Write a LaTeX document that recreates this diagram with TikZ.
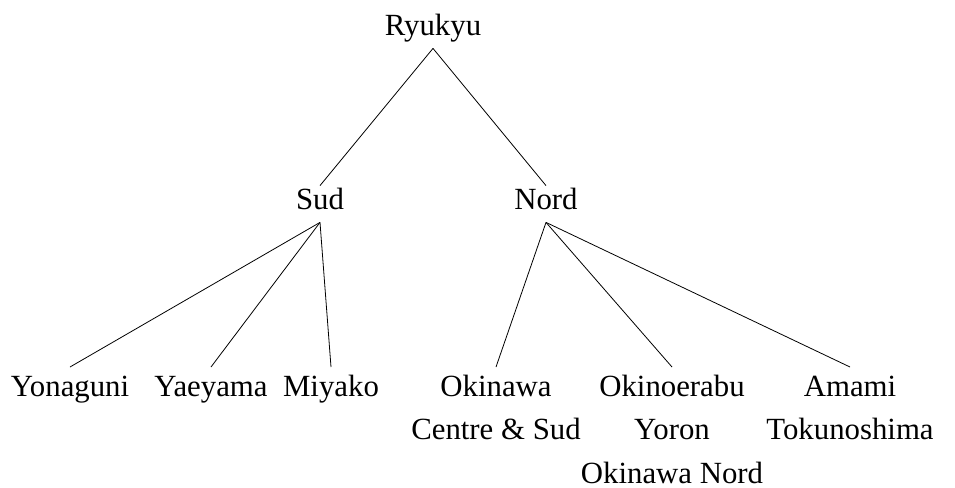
\documentclass[tikz,border=0pt]{standalone}
\usepackage{fontspec}
\setmainfont{Liberation Serif}
\usetikzlibrary{positioning}
\tikzset{lang/.style={inner sep=4pt,text height=0.75em,text depth=0.25em,font=\fontsize{15.4}{22}\selectfont},
  leaf/.style={inner sep=4pt,align=center,anchor=north,font=\fontsize{15.4}{21.6}\selectfont}}

\begin{document}
\begin{tikzpicture}[x=0.5pt,y=-0.5pt]
\useasboundingbox (0,0) rectangle (955,488);
% root and branches
\node[lang,anchor=base] (ryukyu) at (433,35) {Ryukyu};
\node[lang,anchor=base] (sud) at (320,209) {Sud};
\node[lang,anchor=base] (nord) at (546,209) {Nord};
% leaves
\node[leaf] (yonaguni) at (70,367) {\vphantom{k}Yonaguni};
\node[leaf] (yaeyama) at (211,367) {\vphantom{k}Yaeyama};
\node[leaf] (miyako) at (331,367) {Miyako};
\node[leaf] (okinawa) at (496,367) {Okinawa\\Centre \& Sud};
\node[leaf] (okinoerabu) at (672,367) {Okinoerabu\\Yoron\\Okinawa Nord};
\node[leaf] (amami) at (850,367) {\vphantom{k}Amami\\Tokunoshima};
\draw (ryukyu.south) -- (sud.north);
\draw (ryukyu.south) -- (nord.north);
\foreach \leaf in {yonaguni,yaeyama,miyako}
  \draw (sud.south) -- (\leaf.north);
\foreach \leaf in {okinawa,okinoerabu,amami}
  \draw (nord.south) -- (\leaf.north);
\end{tikzpicture}
\end{document}
